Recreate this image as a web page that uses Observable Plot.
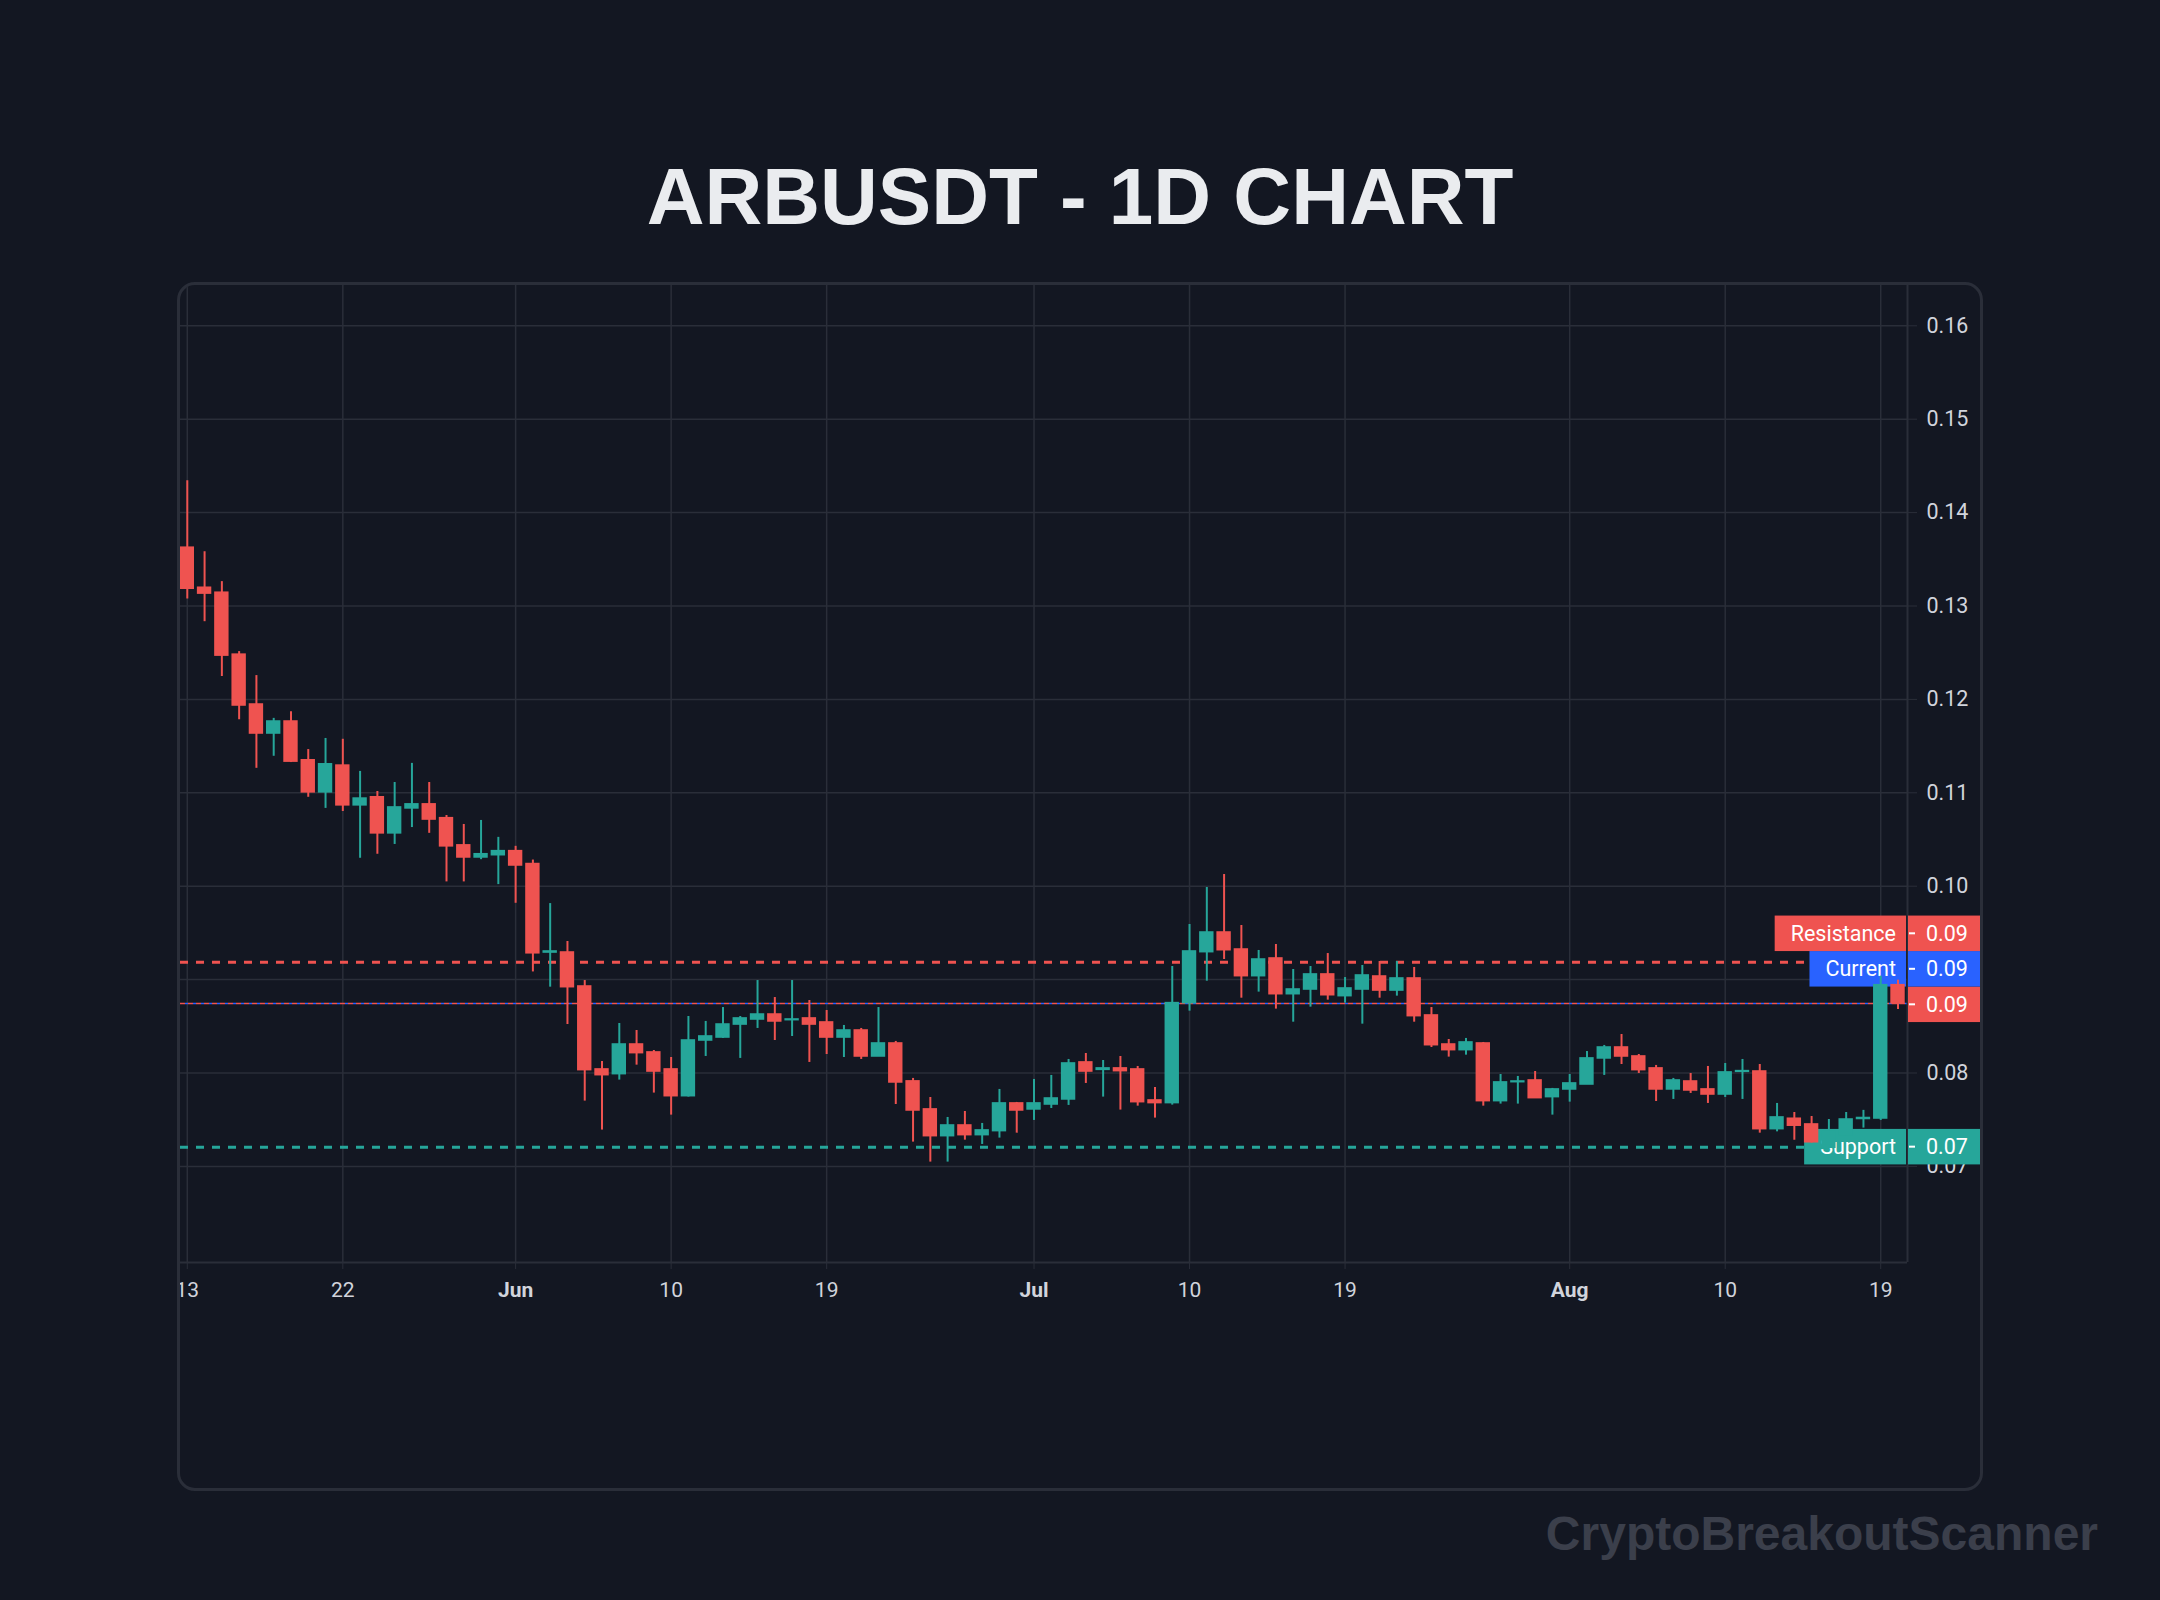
<!DOCTYPE html>
<html>
<head>
<meta charset="utf-8">
<script src="https://cdn.jsdelivr.net/npm/d3@7"></script>
<script src="https://cdn.jsdelivr.net/npm/@observablehq/plot@0.6"></script>
<style>
  html, body { margin: 0; padding: 0; background: #131722; }
  #page { position: relative; width: 2160px; height: 1600px; background: #131722; overflow: hidden; }
  #texts { position: absolute; left: 0; top: 0; }
  #panel { position: absolute; left: 177px; top: 282px; width: 1806px; height: 1209px; box-sizing: border-box; border: 3px solid #2a2e39; border-radius: 18px; }
  #chart { position: absolute; left: 180px; top: 285px; width: 1800px; height: 1203px; overflow: hidden; border-radius: 15px; }
</style>
</head>
<body>
<div id="page">
  <svg id="texts" width="2160" height="1600"></svg>
  <div id="panel"></div>
  <div id="chart"></div>
</div>
<script>
const chartTitle = "ARBUSDT - 1D CHART";
const watermark = "CryptoBreakoutScanner";

const dates = [
  "2024-05-13","2024-05-14","2024-05-15","2024-05-16","2024-05-17","2024-05-18","2024-05-19","2024-05-20","2024-05-21","2024-05-22",
  "2024-05-23","2024-05-24","2024-05-25","2024-05-26","2024-05-27","2024-05-28","2024-05-29","2024-05-30","2024-05-31","2024-06-01",
  "2024-06-02","2024-06-03","2024-06-04","2024-06-05","2024-06-06","2024-06-07","2024-06-08","2024-06-09","2024-06-10","2024-06-11",
  "2024-06-12","2024-06-13","2024-06-14","2024-06-15","2024-06-16","2024-06-17","2024-06-18","2024-06-19","2024-06-20","2024-06-21",
  "2024-06-22","2024-06-23","2024-06-24","2024-06-25","2024-06-26","2024-06-27","2024-06-28","2024-06-29","2024-06-30","2024-07-01",
  "2024-07-02","2024-07-03","2024-07-04","2024-07-05","2024-07-06","2024-07-07","2024-07-08","2024-07-09","2024-07-10","2024-07-11",
  "2024-07-12","2024-07-13","2024-07-14","2024-07-15","2024-07-16","2024-07-17","2024-07-18","2024-07-19","2024-07-20","2024-07-21",
  "2024-07-22","2024-07-23","2024-07-24","2024-07-25","2024-07-26","2024-07-27","2024-07-28","2024-07-29","2024-07-30","2024-07-31",
  "2024-08-01","2024-08-02","2024-08-03","2024-08-04","2024-08-05","2024-08-06","2024-08-07","2024-08-08","2024-08-09","2024-08-10",
  "2024-08-11","2024-08-12","2024-08-13","2024-08-14","2024-08-15","2024-08-16","2024-08-17","2024-08-18","2024-08-19","2024-08-20"
];
const opens = [
  0.13624,0.13195,0.13142,0.12479,0.11945,0.11635,0.11763,0.11348,0.11005,0.11291,
  0.10866,0.10952,0.10566,0.10833,0.10876,0.10728,0.10437,0.10308,0.10332,0.10375,
  0.10237,0.0929,0.0929,0.08926,0.08038,0.07988,0.08305,0.0822,0.08038,0.07752,
  0.08348,0.0838,0.08519,0.08573,0.08626,0.08566,0.08584,0.08541,0.0838,0.08455,
  0.08177,0.08316,0.0791,0.0761,0.07324,0.07438,0.07335,0.07378,0.07674,0.0761,
  0.07663,0.07717,0.08113,0.08034,0.08049,0.08038,0.07706,0.07678,0.08748,0.09294,
  0.09504,0.09322,0.09037,0.09226,0.08844,0.08894,0.09055,0.08823,0.08894,0.09033,
  0.08883,0.09012,0.08616,0.08305,0.08245,0.08316,0.07699,0.07902,0.0792,0.07742,
  0.07824,0.07877,0.08156,0.08273,0.08177,0.08049,0.07824,0.07909,0.07824,0.0777,
  0.08013,0.08016,0.07399,0.0751,0.07449,0.0720,0.0733,0.07508,0.07513,0.0894
];
const highs = [
  0.1434,0.13581,0.13261,0.12512,0.12255,0.11797,0.11868,0.11463,0.11582,0.11573,
  0.11229,0.11014,0.1111,0.11315,0.1111,0.10757,0.10661,0.10704,0.10523,0.10427,
  0.1028,0.09814,0.09408,0.0899,0.08123,0.0853,0.08455,0.08241,0.08166,0.08605,
  0.08552,0.08701,0.08605,0.0899,0.08808,0.0899,0.08776,0.08669,0.08509,0.08477,
  0.08701,0.08338,0.07942,0.07738,0.07524,0.07588,0.0746,0.07824,0.07685,0.07931,
  0.07974,0.08145,0.08209,0.08134,0.08177,0.0807,0.07845,0.0914,0.0959,0.09986,
  0.10125,0.09579,0.09312,0.09376,0.09108,0.0914,0.09279,0.09022,0.09151,0.09194,
  0.09194,0.0913,0.08701,0.08359,0.0837,0.08327,0.07984,0.07963,0.08016,0.07835,
  0.07984,0.0823,0.08295,0.08412,0.08198,0.08081,0.07942,0.07995,0.0807,0.08102,
  0.08145,0.08091,0.07674,0.07577,0.07534,0.07502,0.07577,0.076,0.09037,0.08994
];
const lows = [
  0.13075,0.12832,0.12245,0.11782,0.11262,0.11391,0.11324,0.10952,0.10833,0.108,
  0.10299,0.10342,0.10447,0.10628,0.10566,0.10046,0.10046,0.10284,0.10017,0.09817,
  0.09082,0.08919,0.08519,0.07699,0.07389,0.07924,0.08084,0.07785,0.07549,0.07742,
  0.08177,0.0837,0.08156,0.08477,0.08348,0.08391,0.08113,0.08198,0.08166,0.08145,
  0.08177,0.07663,0.0726,0.07046,0.07046,0.07281,0.07235,0.07303,0.07356,0.07492,
  0.0762,0.07653,0.07888,0.07742,0.07603,0.07645,0.07517,0.07656,0.08662,0.08983,
  0.09215,0.08801,0.08866,0.08684,0.08544,0.08705,0.0878,0.08748,0.08523,0.08801,
  0.08823,0.08544,0.08273,0.0817,0.08191,0.07645,0.07667,0.07667,0.07731,0.07549,
  0.07688,0.07877,0.07974,0.08091,0.07995,0.07695,0.07717,0.07781,0.07674,0.07738,
  0.07717,0.07356,0.0737,0.0728,0.0725,0.0720,0.0732,0.0741,0.07492,0.0868
];
const closes = [
  0.13185,0.13133,0.12469,0.11935,0.11635,0.11763,0.11334,0.11005,0.11305,0.10866,
  0.10938,0.10566,0.10843,0.10876,0.10714,0.10427,0.10308,0.10342,0.10375,0.10222,
  0.09282,0.09301,0.08919,0.08031,0.07977,0.08305,0.08213,0.08016,0.07752,0.08348,
  0.08391,0.08519,0.08584,0.08626,0.08552,0.08573,0.08519,0.0838,0.08455,0.08177,
  0.08316,0.07899,0.07599,0.07324,0.07438,0.07335,0.07385,0.07674,0.07599,0.07674,
  0.07727,0.08102,0.08016,0.08049,0.0802,0.07688,0.07678,0.08748,0.09301,0.09504,
  0.09315,0.09037,0.09215,0.08844,0.08894,0.09055,0.08833,0.08905,0.09044,0.08883,
  0.09012,0.08609,0.08298,0.08245,0.08327,0.07699,0.07899,0.07909,0.07731,0.07824,
  0.07888,0.08156,0.08273,0.08177,0.08031,0.07824,0.0792,0.07813,0.0777,0.08006,
  0.0802,0.07399,0.07524,0.07436,0.07259,0.0737,0.07502,0.07518,0.0894,0.08744
];

const resistanceLevel = 0.09186;
const supportLevel = 0.07206;

const priceTicks = [0.07, 0.08, 0.09, 0.10, 0.11, 0.12, 0.13, 0.14, 0.15, 0.16];
const timeTickDates = ["2024-05-13","2024-05-22","2024-06-01","2024-06-10","2024-06-19","2024-07-01","2024-07-10","2024-07-19","2024-08-01","2024-08-10","2024-08-19"];
const timeTickLabels = ["13","22","Jun","10","19","Jul","10","19","Aug","10","19"];

const UP = "#26a69a", DOWN = "#ef5350", BLUE = "#2962ff", GRID = "#2a2e39", TEXT = "#d1d4dc";
const FONT = "Roboto, sans-serif";
const FS = 21.5;
const LABEL_H = 35.5;

const parse = d3.utcParse("%Y-%m-%d");
const candles = dates.map((d, i) => ({
  date: parse(d), open: opens[i], high: highs[i], low: lows[i], close: closes[i],
  color: closes[i] >= opens[i] ? UP : DOWN
}));
const last = candles[candles.length - 1];
const currentPrice = last.close;

const DAY = 864e5, HOUR = 36e5;
const t0 = +candles[0].date;
const xDomain = [new Date(t0 - 0.3935 * DAY), new Date(t0 + 99.549 * DAY)];
const yDomain = [0.059711, 0.164315];

const tickItems = timeTickDates.map((d, i) => ({date: parse(d), label: timeTickLabels[i], month: /[A-Za-z]/.test(timeTickLabels[i])}));

const labelItems = [
  {title: "Resistance", price: resistanceLevel, color: DOWN},
  {title: null, price: currentPrice, color: last.color},
  {title: "Current", price: currentPrice, color: BLUE},
  {title: "Support", price: supportLevel, color: UP}
];

const measure = (() => {
  const ctx = document.createElement("canvas").getContext("2d");
  ctx.font = `${FS}px Roboto`;
  return s => ctx.measureText(s).width;
})();

function layoutLabels(y) {
  const items = labelItems.map(d => ({...d, y0: y(d.price)})).sort((a, b) => b.y0 - a.y0);
  let prev = Infinity;
  for (const it of items) {
    const want = it.title ? it.y0 : it.y0 + 1.3;
    it.y = Math.min(want, prev - LABEL_H);
    prev = it.y;
  }
  return items;
}

const NS = "http://www.w3.org/2000/svg";
function el(doc, name, attrs, text) {
  const e = doc.createElementNS(NS, name);
  for (const k in attrs) e.setAttribute(k, attrs[k]);
  if (text != null) e.textContent = text;
  return e;
}

function leftBoxes(index, scales, values, dims, context) {
  const doc = (context && context.document) || document;
  const g = el(doc, "g", {});
  const xr = dims.width - dims.marginRight;
  for (const it of layoutLabels(scales.y)) {
    if (!it.title) continue;
    const w = measure(it.title) + 26;
    g.appendChild(el(doc, "rect", {x: xr - 1 - w, y: it.y - LABEL_H / 2, width: w, height: LABEL_H, fill: it.color}));
    g.appendChild(el(doc, "text", {x: xr - 11, y: it.y, "text-anchor": "end", "dominant-baseline": "central",
      fill: "#ffffff", "font-family": FONT, "font-size": FS}, it.title));
  }
  return g;
}

function rightBoxes(index, scales, values, dims, context) {
  const doc = (context && context.document) || document;
  const g = el(doc, "g", {});
  const xr = dims.width - dims.marginRight;
  const fmt = d3.format(".2f");
  for (const it of layoutLabels(scales.y)) {
    g.appendChild(el(doc, "rect", {x: xr + 1, y: it.y - LABEL_H / 2, width: dims.width - xr - 1, height: LABEL_H, fill: it.color}));
    g.appendChild(el(doc, "line", {x1: xr + 2, x2: xr + 8, y1: it.y, y2: it.y, stroke: "#ffffff", "stroke-width": 2}));
    g.appendChild(el(doc, "text", {x: xr + 19, y: it.y, "text-anchor": "start", "dominant-baseline": "central",
      fill: "#ffffff", "font-family": FONT, "font-size": FS}, fmt(it.price)));
  }
  return g;
}

const plot = Plot.plot({
  width: 1800,
  height: 1203,
  marginLeft: 0,
  marginRight: 73,
  marginTop: 0,
  marginBottom: 226,
  style: {background: "transparent", color: TEXT, fontFamily: FONT, fontSize: FS + "px", overflow: "visible"},
  x: {type: "utc", domain: xDomain},
  y: {type: "linear", domain: yDomain},
  color: {type: "identity"},
  marks: [
    Plot.ruleY(priceTicks, {stroke: GRID, strokeWidth: 1.5}),
    Plot.ruleX(tickItems, {x: "date", stroke: GRID, strokeWidth: 1.5}),
    Plot.ruleY([resistanceLevel], {stroke: DOWN, strokeWidth: 3, strokeDasharray: "8,8"}),
    Plot.ruleY([supportLevel], {stroke: UP, strokeWidth: 3, strokeDasharray: "8,8"}),
    Plot.ruleY([currentPrice], {stroke: last.color, strokeWidth: 1.5, strokeDasharray: "5,3"}),
    Plot.ruleY([currentPrice], {stroke: BLUE, strokeWidth: 1.5, strokeDasharray: "3,5", strokeDashoffset: 3}),
    leftBoxes,
    Plot.ruleX(candles, {x: "date", y1: "low", y2: "high", stroke: d => d.color, strokeWidth: 2}),
    Plot.rect(candles, {
      x1: d => new Date(+d.date - 10 * HOUR), x2: d => new Date(+d.date + 10 * HOUR),
      y1: d => Math.min(d.open, d.close), y2: d => Math.max(d.open, d.close),
      fill: d => d.color, insetTop: -0.8, insetBottom: -0.8
    }),
    Plot.ruleX([xDomain[1]], {stroke: GRID, strokeWidth: 2}),
    Plot.ruleY([yDomain[0]], {stroke: GRID, strokeWidth: 2}),
    Plot.axisY({anchor: "right", ticks: priceTicks, tickFormat: d3.format(".2f"), tickSize: 9, tickPadding: 10,
      stroke: GRID, fill: TEXT, fontSize: FS, label: null}),
    Plot.axisX({anchor: "bottom", ticks: tickItems.map(d => d.date), tickSize: 7, tickFormat: () => "", stroke: GRID, label: null}),
    Plot.text(tickItems.filter(d => !d.month), {x: "date", text: "label", frameAnchor: "bottom", dy: 34, fill: TEXT, fontSize: 21}),
    Plot.text(tickItems.filter(d => d.month), {x: "date", text: "label", frameAnchor: "bottom", dy: 34, fill: TEXT, fontSize: 21, fontWeight: "bold"}),
    rightBoxes
  ]
});
document.getElementById("chart").appendChild(plot);

// Title and watermark
const texts = document.getElementById("texts");
texts.appendChild(el(document, "text", {x: 1080, y: 224, "text-anchor": "middle", "font-family": "'Liberation Sans', Arial, sans-serif",
  "font-weight": "bold", "font-size": 80, fill: "#eaecef"}, chartTitle));
texts.appendChild(el(document, "text", {x: 2098, y: 1550, "text-anchor": "end", "font-family": "'Liberation Sans', Arial, sans-serif",
  "font-weight": "bold", "font-size": 48, fill: "#3b3f4b"}, watermark));
</script>
</body>
</html>
